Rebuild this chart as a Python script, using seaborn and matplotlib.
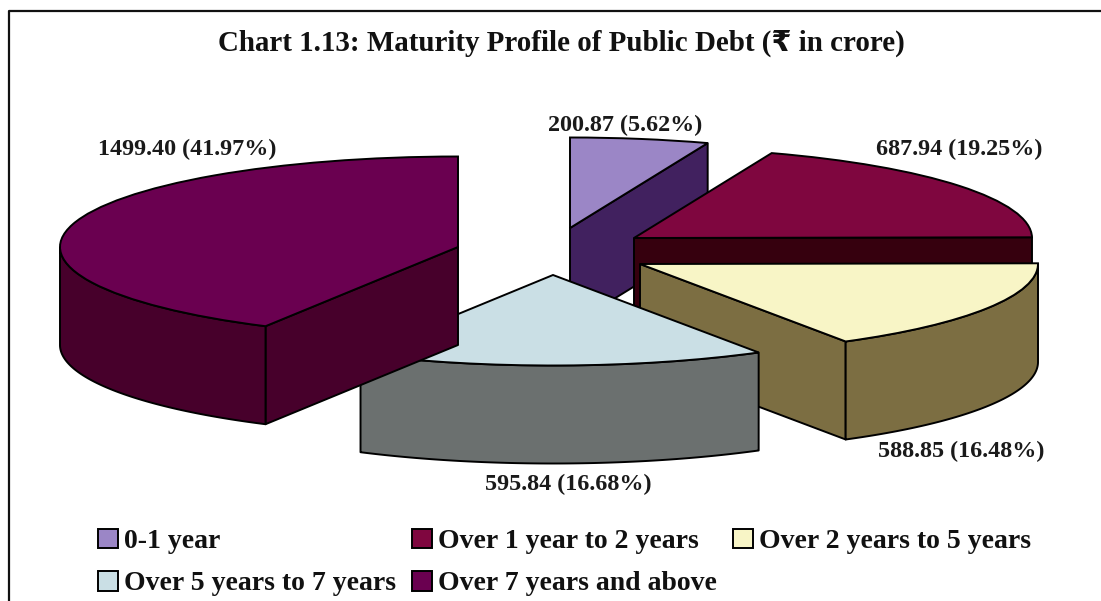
import numpy as np
import matplotlib
matplotlib.use("Agg")
import matplotlib.pyplot as plt
import seaborn as sns

categories = ["0-1 year", "Over 1 year to 2 years", "Over 2 years to 5 years",
              "Over 5 years to 7 years", "Over 7 years and above"]
values = [200.87, 687.94, 588.85, 595.84, 1499.40]
top_colors = ["#9B86C6", "#7F063F", "#F8F5C6", "#CADFE5", "#6A0050"]
side_colors = ["#41215F", "#36000E", "#7C6E42", "#6B706F", "#47002B"]
title = "Chart 1.13: Maturity Profile of Public Debt (\u20b9 in crore)"

W, H = 1101, 601
RX, RY, DEPTH = 398.0, 90.5, 98.0
# Exploded slice centres, in pixels
slice_centres = [(570, 228), (634, 238), (640, 264), (553, 275), (458, 247)]
label_anchor = [(625, 125), (959, 149), (961, 451), (568, 484), (187, 149)]
# The legend fills column by column, so this order reads row by row
legend_order = [0, 3, 1, 4, 2]

sns.set_theme(style="white")
plt.rcParams["font.family"] = ["Liberation Serif", "DejaVu Sans"]
plt.rcParams["font.weight"] = "bold"
palette = sns.color_palette(top_colors)

fig = plt.figure(figsize=(W / 100, H / 100), dpi=100, facecolor="white")
ax = fig.add_axes([0, 0, 1, 1])


def ux(px):
    return px / RX


def uy(py):
    return -py / RY


wedges, _ = ax.pie(values, colors=palette, startangle=90, counterclock=False,
                   wedgeprops=dict(edgecolor="black", linewidth=1.4))
ax.set_aspect("auto")
ax.set_xlim(0, ux(W))
ax.set_ylim(uy(H), 0)
ax.set_axis_off()

depth = DEPTH / RY
edge = dict(edgecolor="black", linewidth=1.4, joinstyle="round")
for i, (wedge, centre, side) in enumerate(zip(wedges, slice_centres, side_colors)):
    cx, cy = ux(centre[0]), uy(centre[1])
    wedge.set_center((cx, cy))
    base = 10 + 3 * i
    wedge.set_zorder(base + 2)

    # Flat cut faces run from the hub to each arc end; skip those turned away
    start, stop = np.radians([wedge.theta1, wedge.theta2])
    facing = []
    if np.cos(start) > 1e-6:
        facing.append(start)
    if np.cos(stop) < -1e-6:
        facing.append(stop)
    for a in facing:
        xs = [cx, cx + np.cos(a), cx + np.cos(a), cx]
        ys = [cy, cy + np.sin(a), cy + np.sin(a) - depth, cy - depth]
        ax.fill(xs, ys, facecolor=side, zorder=base, **edge)

    # Rim: only the near half of the arc faces the viewer
    t = np.radians(np.linspace(wedge.theta1, wedge.theta2, 400))
    t = t[np.sin(t) <= 0]
    if t.size:
        xs = cx + np.cos(t)
        ys = cy + np.sin(t)
        ax.fill(np.r_[xs, xs[::-1]], np.r_[ys, ys[::-1] - depth],
                facecolor=side, zorder=base + 1, **edge)

total = sum(values)
for v, (px, py) in zip(values, label_anchor):
    ax.text(ux(px), uy(py), f"{v:.2f} ({v / total * 100:.2f}%)", ha="center", va="center",
            fontsize=17.4, fontweight="bold", color="#1a1a1a", zorder=40)

fig.text(561 / W, 1 - 43.5 / H, title, ha="center", va="center", fontsize=20.9,
         fontweight="bold", color="#111111")

# Panel border: left and top rules
fig.add_artist(plt.Line2D([8.5 / W, 8.5 / W, 1], [0, 1 - 10.5 / H, 1 - 10.5 / H],
                          color="#111111", lw=1.6, transform=fig.transFigure))

fig.legend([wedges[i] for i in legend_order], [categories[i] for i in legend_order],
           ncol=3, loc="upper left", bbox_to_anchor=(98 / W, 1 - 528.5 / H),
           frameon=False, fontsize=20, handlelength=0.72, handleheight=0.72,
           handletextpad=0.22, columnspacing=0.58, labelspacing=0.6, borderpad=0,
           borderaxespad=0, labelcolor="#111111")

fig.savefig("out.png", dpi=100, facecolor="white")
